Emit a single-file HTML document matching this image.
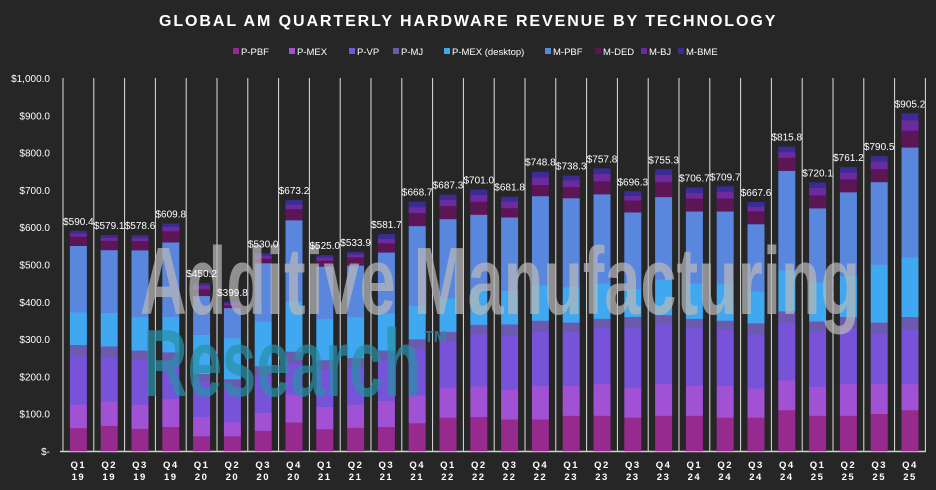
<!DOCTYPE html>
<html><head><meta charset="utf-8"><style>
html,body{margin:0;padding:0;background:#262626;}
svg{display:block}
</style></head><body>
<svg id="c" width="936" height="490" xmlns="http://www.w3.org/2000/svg" font-family="Liberation Sans, sans-serif">
<rect width="936" height="490" fill="#262626"/>
<text x="468" y="26" text-anchor="middle" fill="#fff" font-size="16" font-weight="bold" letter-spacing="1.6" textLength="618" lengthAdjust="spacing">GLOBAL AM QUARTERLY HARDWARE REVENUE BY TECHNOLOGY</text>
<g id="leg" font-size="9.5" fill="#fff"></g>
<g id="axis" font-size="10" fill="#fff"></g>
<g id="bars"></g>
<g id="wm">
<text x="140" y="314" fill="#b8b8b8" fill-opacity="0.72" font-weight="bold" font-family="Liberation Sans Narrow, Liberation Sans, sans-serif" font-size="96" textLength="720" lengthAdjust="spacingAndGlyphs">Additive Manufacturing</text>
<text x="143" y="396" fill="#2a8fa8" fill-opacity="0.72" font-weight="bold" font-family="Liberation Sans Narrow, Liberation Sans, sans-serif" font-size="96" textLength="278" lengthAdjust="spacingAndGlyphs">Research</text>
<text x="424" y="342" fill="#2a8fa8" fill-opacity="0.72" font-size="16" font-weight="bold">TM</text>
</g>
<g id="lbl" font-size="10" fill="#fff" text-anchor="middle"></g>
</svg>
<script>
const NS="http://www.w3.org/2000/svg";
function el(t,a,p,txt){const e=document.createElementNS(NS,t);for(const k in a)e.setAttribute(k,a[k]);if(txt!==undefined)e.textContent=txt;document.getElementById(p).appendChild(e);return e;}
const cols=["#962a8e","#a151d3","#7753d9","#6b5aae","#3fa8f0","#5a87de","#5c1656","#6c2b9d","#3b2b96"];
const names=["P-PBF","P-MEX","P-VP","P-MJ","P-MEX (desktop)","M-PBF","M-DED","M-BJ","M-BME"];
const lx=[233,289,349,393,444,545,595,641,678];
names.forEach((n,i)=>{el("rect",{x:lx[i],y:48,width:6,height:6,fill:cols[i]},"leg");el("text",{x:lx[i]+8,y:55},"leg",n);});
const y0=451,sc=0.373;
const Y=v=>y0-v*sc;
for(let v=0;v<=1000;v+=100){el("text",{x:50,y:Y(v)+4,"text-anchor":"end"},"axis",v==0?"$-":"$"+(v>=1000?"1,000.0":v.toFixed(1)));}
const x0=63,w=30.8;
for(let i=0;i<=28;i++){el("line",{x1:x0+i*w,x2:x0+i*w,y1:78,y2:y0,stroke:"#e0e0e0","stroke-width":1},"axis");}
el("line",{x1:60,x2:926,y1:y0+0.5,y2:y0+0.5,stroke:"#d0d0d0","stroke-width":1.5},"axis");
const tot=[590.4,579.1,578.6,609.8,450.2,399.8,530.0,673.2,525.0,533.9,581.7,668.7,687.3,701.0,681.8,748.8,738.3,757.8,696.3,755.3,706.7,709.7,667.6,815.8,720.1,761.2,790.5,905.2];
const seg=[
[62,63,130,30,87,0,25,8,7],[68,65,118,30,90,0,25,8,7],[60,65,120,25,90,0,25,8,7],[65,75,100,25,95,0,30,12,8],
[40,52,95,20,105,0,18,10,6],[40,38,95,20,110,0,8,4,4],[55,48,100,25,120,0,12,8,6],[77,75,85,30,135,0,30,12,12],
[59,60,100,25,110,0,16,8,6],[63,62,100,25,110,0,22,8,6],[65,70,110,25,100,0,25,12,12],[75,75,125,25,90,0,35,16,14],
[90,80,125,25,90,0,35,16,14],[92,82,140,25,95,0,35,18,14],[85,80,145,30,90,0,25,18,12],[85,90,145,30,95,0,30,20,15],
[95,80,145,25,95,0,30,18,12],[95,85,150,25,95,0,35,20,14],[90,80,160,30,75,0,32,12,12],[95,85,160,25,95,0,40,20,14],
[95,80,155,25,95,0,35,15,14],[90,85,150,25,100,0,35,18,14],[90,78,145,30,85,0,35,12,12],[110,80,155,30,110,0,35,15,14],
[95,78,150,25,105,0,35,20,14],[95,85,150,30,110,0,35,18,14],[100,80,135,30,155,0,35,20,14],[110,70,145,35,160,0,45,28,18]];
tot.forEach((t,i)=>{const s=seg[i].slice();const o=s.reduce((a,b)=>a+b,0);s[5]=Math.max(0,t-o);
 let c=0;const cx=x0+w*(i+0.5);
 s.forEach((v,k)=>{el("rect",{x:cx-8.5,y:Y(c+v),width:17,height:v*sc+0.3,fill:cols[k]},"bars");c+=v;});
 el("text",{x:cx,y:Y(t)-6},"lbl","$"+t.toFixed(1));
 const q="Q"+((i%4)+1),yr=String(19+Math.floor(i/4));
 el("text",{x:cx,y:468,"letter-spacing":"1.5","font-weight":"bold","font-size":"9.5"},"lbl",q);
 el("text",{x:cx,y:480,"letter-spacing":"1.5","font-weight":"bold","font-size":"9.5"},"lbl",yr);
});
</script>
</body></html>
